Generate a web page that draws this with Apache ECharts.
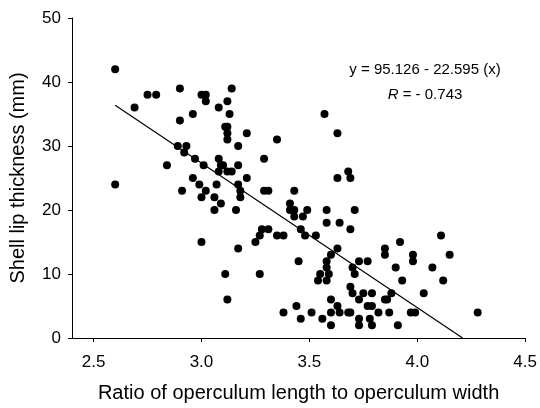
<!DOCTYPE html>
<html>
<head>
<meta charset="utf-8">
<script src="https://cdn.jsdelivr.net/npm/echarts@6/dist/echarts.min.js"></script>
<style>
  html, body { margin: 0; padding: 0; background: #fff; }
  #chart { width: 540px; height: 408px; }
</style>
</head>
<body>
<div id="chart"></div>
<script>
// ratio of operculum length to width (x) and shell lip thickness (y)
var ratio = [
  2.60, 2.60, 2.69, 2.75, 2.79, 2.84, 2.90, 2.90, 2.89, 2.92, 2.93, 2.91, 2.96, 2.97, 2.96,
  2.99, 3.00, 3.02, 3.01, 3.00, 3.02, 3.02, 3.00, 3.06, 3.06, 3.07, 3.09, 3.08, 3.08, 3.09,
  3.08, 3.10, 3.11, 3.12, 3.12, 3.13, 3.12, 3.12, 3.12, 3.14, 3.14, 3.11, 3.12, 3.17, 3.17,
  3.17, 3.18, 3.18, 3.16, 3.17, 3.21, 3.21, 3.25, 3.27, 3.27, 3.28, 3.29, 3.29, 3.31, 3.31,
  3.35, 3.35, 3.38, 3.38, 3.41, 3.41, 3.43, 3.43, 3.43, 3.44, 3.45, 3.46, 3.46, 3.47, 3.48,
  3.49, 3.51, 3.53, 3.55, 3.54, 3.56, 3.57, 3.58, 3.58, 3.58, 3.58, 3.58, 3.59, 3.60, 3.60,
  3.60, 3.60, 3.63, 3.63, 3.63, 3.63, 3.64, 3.64, 3.68, 3.69, 3.69, 3.71, 3.69, 3.70, 3.70,
  3.71, 3.68, 3.69, 3.73, 3.73, 3.75, 3.73, 3.73, 3.77, 3.77, 3.79, 3.79, 3.78, 3.79, 3.82,
  3.85, 3.85, 3.85, 3.86, 3.88, 3.87, 3.90, 3.91, 3.92, 3.93, 3.98, 3.98, 3.97, 3.99, 4.03,
  4.07, 4.11, 4.12, 4.15, 4.28
];
var thickness = [
  42, 24, 36, 38, 38, 27, 39, 34, 30, 29, 30, 23, 35, 28, 25,
  24, 22, 23, 27, 38, 38, 37, 15, 22, 20, 24, 21, 36, 28, 27,
  26, 27, 33, 33, 37, 35, 31, 32, 26, 26, 39, 10, 6, 30, 27,
  24, 23, 22, 20, 14, 32, 25, 15, 16, 10, 17, 28, 23, 23, 17,
  31, 16, 16, 4, 21, 20, 20, 23, 19, 5, 12, 17, 3, 19, 16,
  20, 4, 16, 10, 9, 3, 35, 20, 18, 12, 11, 9, 10, 13, 6,
  4, 2, 32, 14, 25, 5, 4, 18, 26, 25, 17, 20, 8, 7, 11,
  10, 4, 4, 12, 6, 7, 3, 2, 12, 5, 5, 7, 3, 2, 4,
  13, 14, 6, 6, 7, 4, 11, 2, 15, 9, 13, 12, 4, 4, 7,
  11, 16, 9, 13, 4
];
// regression line y = 95.126 - 22.595 (x), drawn from x = 2.6 to where y reaches 0
var fitLine = [[2.60, 36.38], [4.21, 0]];
var xTicks = [2.5, 3.0, 3.5, 4.0, 4.5];

var points = ratio.map(function (x, i) { return [x, thickness[i]]; });

var font = '"Liberation Sans", Arial, sans-serif';
var chart = echarts.init(document.getElementById('chart'));
chart.setOption({
  animation: false,
  grid: { left: 71, right: 11, top: 18, bottom: 69 },
  xAxis: {
    type: 'value',
    min: 2.4,
    max: 4.5,
    splitLine: { show: false },
    axisLine: { onZero: false, lineStyle: { color: '#000', width: 1 } },
    axisTick: { show: true, customValues: xTicks, length: 4, lineStyle: { color: '#000' } },
    axisLabel: {
      customValues: xTicks,
      formatter: function (v) { return v.toFixed(1); },
      color: '#000', fontSize: 17, fontFamily: font, margin: 16
    },
    name: 'Ratio of operculum length to operculum width',
    nameLocation: 'middle',
    nameGap: 45,
    nameTextStyle: { color: '#000', fontSize: 20, fontFamily: font }
  },
  yAxis: {
    type: 'value',
    min: 0,
    max: 50,
    interval: 10,
    splitLine: { show: false },
    axisLine: { show: true, lineStyle: { color: '#000', width: 1 } },
    axisTick: { show: true, length: 4, lineStyle: { color: '#000' } },
    axisLabel: { color: '#000', fontSize: 17, fontFamily: font, margin: 11 },
    name: 'Shell lip thickness (mm)',
    nameLocation: 'middle',
    nameGap: 44,
    nameTextStyle: { color: '#000', fontSize: 20, fontFamily: font }
  },
  series: [
    {
      type: 'scatter',
      data: points,
      symbol: 'circle',
      symbolSize: 8,
      itemStyle: { color: '#000', opacity: 1 }
    },
    {
      type: 'line',
      data: fitLine,
      symbol: 'none',
      lineStyle: { color: '#000', width: 1.2 }
    }
  ],
  graphic: [
    {
      type: 'text', x: 425, y: 62,
      style: { text: 'y = 95.126 - 22.595 (x)', fill: '#000', font: '15px ' + font, align: 'center' }
    },
    {
      type: 'text', x: 425, y: 87,
      style: {
        text: '{i|R} = - 0.743',
        fill: '#000',
        font: '15px ' + font,
        align: 'center',
        rich: { i: { fontStyle: 'italic', fontSize: 15, fontFamily: font, fill: '#000' } }
      }
    }
  ]
});
</script>
</body>
</html>
